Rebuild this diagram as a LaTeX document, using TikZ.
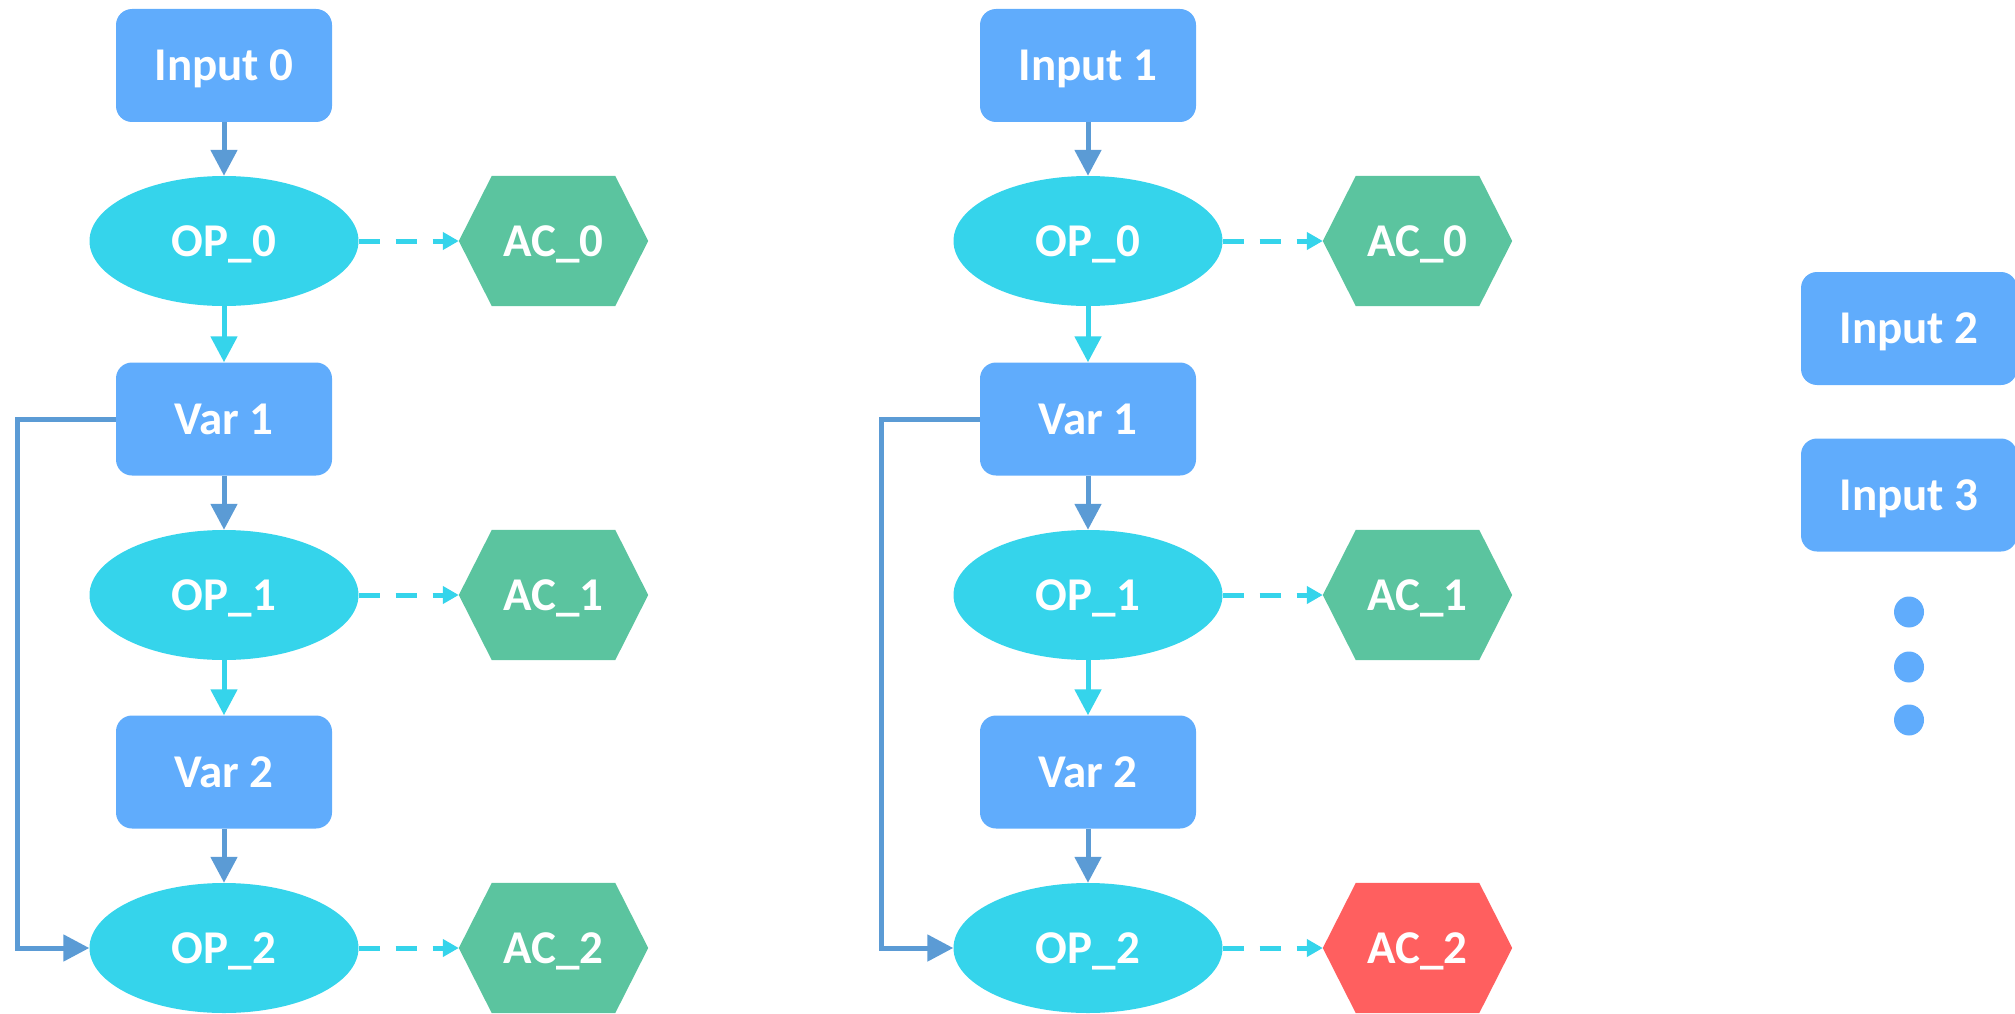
\documentclass[tikz,border=0pt]{standalone}
\usepackage{fontspec}
\setmainfont{Carlito}
\usetikzlibrary{arrows.meta,shapes.geometric}
\pgfdeclarelayer{background}
\pgfsetlayers{background,main}
\definecolor{boxblue}{HTML}{60ACFC}
\definecolor{opcyan}{HTML}{35D4EB}
\definecolor{acgreen}{HTML}{5BC49F}
\definecolor{acred}{HTML}{FF5F5F}
\definecolor{linkblue}{HTML}{5B9BD5}
\tikzset{
  lbl/.style={text=white, font=\fontsize{47}{56}\selectfont\bfseries, text height=30pt, text depth=0pt},
  box/.style={lbl, rectangle, rounded corners=16pt, fill=boxblue, minimum width=216pt, minimum height=113pt, inner sep=0pt},
  op/.style={lbl, ellipse, fill=opcyan, minimum width=269pt, minimum height=130pt, inner sep=0pt},
  ac/.style={lbl, rectangle, minimum width=189pt, minimum height=130pt, inner sep=0pt},
  dotb/.style={ellipse, fill=boxblue, minimum width=30pt, minimum height=31pt, inner sep=0pt},
  bluearrow/.style={draw=linkblue, line width=5pt, -{Triangle[length=26pt,width=26pt]}},
  cyanarrow/.style={draw=opcyan, line width=5pt, -{Triangle[length=26pt,width=26pt]}},
  dasharrow/.style={draw=opcyan, line width=5pt, dash pattern=on 21pt off 16pt, -{Triangle[length=16pt,width=17pt]}},
  looparrow/.style={draw=linkblue, line width=5pt, miter limit=10, -{Triangle[length=26pt,width=26pt]}},
}
\newcommand{\hexfill}[2]{%
  \begin{pgfonlayer}{background}
  \fill[#2] (#1.west) -- ([xshift=33pt]#1.north west) -- ([xshift=-33pt]#1.north east)
    -- (#1.east) -- ([xshift=-33pt]#1.south east) -- ([xshift=33pt]#1.south west) -- cycle;
  \end{pgfonlayer}}
\begin{document}
\begin{tikzpicture}[x=1pt,y=-1pt]
\useasboundingbox (0,0) rectangle (2015,1014);
\clip (0,0) rectangle (2015,1014);

% column A
\node[box] (inA) at (224,65.5) {Input 0};
\node[op]  (op0A) at (224,241) {OP\_0};
\node[ac]  (ac0A) at (553.5,241) {AC\_0};
\node[box] (v1A) at (224,419) {Var 1};
\node[op]  (op1A) at (224,595) {OP\_1};
\node[ac]  (ac1A) at (553.5,595) {AC\_1};
\node[box] (v2A) at (224,772) {Var 2};
\node[op]  (op2A) at (224,948) {OP\_2};
\node[ac]  (ac2A) at (553.5,948) {AC\_2};

% column B
\node[box] (inB) at (1088,65.5) {Input 1};
\node[op]  (op0B) at (1088,241) {OP\_0};
\node[ac]  (ac0B) at (1417.5,241) {AC\_0};
\node[box] (v1B) at (1088,419) {Var 1};
\node[op]  (op1B) at (1088,595) {OP\_1};
\node[ac]  (ac1B) at (1417.5,595) {AC\_1};
\node[box] (v2B) at (1088,772) {Var 2};
\node[op]  (op2B) at (1088,948) {OP\_2};
\node[ac]  (ac2B) at (1417.5,948) {AC\_2};

\hexfill{ac0A}{acgreen}
\hexfill{ac1A}{acgreen}
\hexfill{ac2A}{acgreen}
\hexfill{ac0B}{acgreen}
\hexfill{ac1B}{acgreen}
\hexfill{ac2B}{acred}

% extra inputs
\node[box] (in2) at (1909,328.5) {Input 2};
\node[box] (in3) at (1909,495) {Input 3};
\node[dotb] (d1) at (1909,612) {};
\node[dotb] (d2) at (1909,667) {};
\node[dotb] (d3) at (1909,720) {};

% connectors
\foreach \c in {A,B}{
  \draw[bluearrow] (in\c.south) -- (op0\c.north);
  \draw[cyanarrow] (op0\c.south) -- (v1\c.north);
  \draw[bluearrow] (v1\c.south) -- (op1\c.north);
  \draw[cyanarrow] (op1\c.south) -- (v2\c.north);
  \draw[bluearrow] (v2\c.south) -- (op2\c.north);
  \draw[dasharrow] (op0\c.east) -- (ac0\c.west);
  \draw[dasharrow] (op1\c.east) -- (ac1\c.west);
  \draw[dasharrow] (op2\c.east) -- (ac2\c.west);
  \draw[looparrow] (v1\c.west) -- ++(-98,0) |- (op2\c.west);
}
\end{tikzpicture}
\end{document}
